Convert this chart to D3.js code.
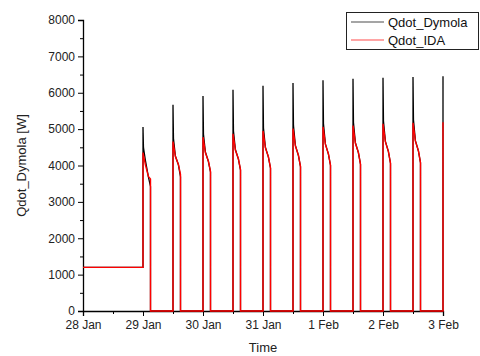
<!DOCTYPE html>
<html><head><meta charset="utf-8">
<script src="https://cdn.jsdelivr.net/npm/d3@7"></script>
<style>body{margin:0;background:#fff}svg{display:block}text{font-family:Arial,"Liberation Sans",sans-serif}</style>
</head><body>
<script>
// time in days after 28 Jan 00:00
const xTickLabels = ["28 Jan","29 Jan","30 Jan","31 Jan","1 Feb","2 Feb","3 Feb"];
const yTicks = [0,1000,2000,3000,4000,5000,6000,7000,8000];
const baseLoad = 1200;
const cycleStarts = [1.0,1.5,2.0,2.5,3.0,3.5,4.0,4.5,5.0,5.5,6.0];
const cycleLength = 0.125;
// Dymola values at offsets 0, 0.008, 0.04, 0.09, 0.125 d
const dymOffsets = [0, 0.008, 0.04, 0.09, 0.125];
const dymPeak = [5060,5670,5910,6080,6190,6270,6345,6385,6410,6435,6455];
const dymA    = [4490,4740,4860,4950,5030,5095,5145,5180,5225,5255];
const dymB    = [4140,4260,4370,4440,4500,4550,4595,4625,4665,4685];
const dymC    = [3690,4020,4110,4175,4230,4275,4315,4350,4380,4400];
const dymEnd  = [3420,3690,3820,3875,3925,3965,4000,4030,4055,4075];
// IDA values at offsets 0, 0.04, 0.09, 0.125 d
const idaOffsets = [0, 0.04, 0.09, 0.125];
const idaPeak = [4355,4660,4780,4870,4950,5015,5065,5100,5145,5175,5190];
const idaB    = [4020,4245,4350,4420,4485,4535,4580,4610,4650,4670];
const idaC    = [3700,4030,4120,4185,4240,4285,4325,4360,4390,4410];
const idaEnd  = [3630,3760,3840,3890,3935,3975,4010,4040,4065,4080];

function buildSeries(offsets, peak, cols){
  const pts = [[0, baseLoad], [cycleStarts[0], baseLoad]];
  cycleStarts.forEach((t0, i) => {
    if (i > 0) pts.push([t0, 0]);
    pts.push([t0, peak[i]]);
    if (i < cols[0].length) {
      cols.forEach((c, j) => pts.push([t0 + offsets[j+1], c[i]]));
      pts.push([t0 + cycleLength, 0]);
    }
  });
  return pts;
}
const dymSeries = buildSeries(dymOffsets, dymPeak, [dymA, dymB, dymC, dymEnd]);
const idaSeries = buildSeries(idaOffsets, idaPeak, [idaB, idaC, idaEnd]);

const W = 480, H = 356;
const m = {left:83, right:37, top:20, bottom:45};
const svg = d3.select("body").append("svg").attr("width", W).attr("height", H);
const x = d3.scaleLinear().domain([0, 6]).range([m.left, W - m.right]);
const y = d3.scaleLinear().domain([0, 8000]).range([H - m.bottom, m.top]);

// minor ticks
const xAxisMinor = d3.axisBottom(x).tickValues(d3.range(0.5, 6, 1)).tickSize(3).tickFormat("");
const yAxisMinor = d3.axisLeft(y).tickValues(d3.range(500, 8000, 1000)).tickSize(3).tickFormat("");
svg.append("g").attr("transform", `translate(0,${y(0)})`).call(xAxisMinor).call(g=>g.select(".domain").remove());
svg.append("g").attr("transform", `translate(${m.left},0)`).call(yAxisMinor).call(g=>g.select(".domain").remove());

const xAxis = d3.axisBottom(x).tickValues(d3.range(0, 7, 1)).tickSize(5).tickPadding(4)
  .tickFormat((d, i) => xTickLabels[i]);
const yAxis = d3.axisLeft(y).tickValues(yTicks).tickSize(5).tickPadding(3).tickFormat(d3.format("d"));
const gx = svg.append("g").attr("transform", `translate(0,${y(0)})`).call(xAxis);
const gy = svg.append("g").attr("transform", `translate(${m.left},0)`).call(yAxis);
[gx, gy].forEach(g => {
  g.select(".domain").attr("stroke-width", 1.3);
  g.selectAll("text").attr("font-size", 12).attr("fill", "#222").style("font-family","Arial,'Liberation Sans',sans-serif");
});
svg.selectAll(".tick line").attr("stroke-width", 1);

const line = d3.line().x(d => x(d[0])).y(d => y(d[1]));
svg.append("path").datum(dymSeries).attr("d", line).attr("fill","none").attr("stroke","#000").attr("stroke-width",1.3);
svg.append("path").datum(idaSeries).attr("d", line).attr("fill","none").attr("stroke","#ff0000").attr("stroke-width",1.4);

svg.append("text").attr("x", (m.left + W - m.right)/2).attr("y", 352).attr("text-anchor","middle")
  .attr("font-size", 13).attr("fill","#222").text("Time");
svg.append("text").attr("transform", `translate(26,${(m.top + H - m.bottom)/2}) rotate(-90)`)
  .attr("text-anchor","middle").attr("font-size", 13).attr("fill","#222").text("Qdot_Dymola [W]");

// legend
const legendItems = [{name:"Qdot_Dymola", color:"#000"}, {name:"Qdot_IDA", color:"#ff0000"}];
const lg = svg.append("g");
lg.append("rect").attr("x", 346.5).attr("y", 12.5).attr("width", 132).attr("height", 37)
  .attr("fill","#fff").attr("stroke","#222").attr("stroke-width",1);
legendItems.forEach((d, i) => {
  const yy = 22 + i * 18;
  lg.append("line").attr("x1", 351).attr("x2", 384).attr("y1", yy).attr("y2", yy)
    .attr("stroke", d.color).attr("stroke-width", 1).attr("opacity", 0.7);
  lg.append("text").attr("x", 388).attr("y", yy + 4.5).attr("font-size", 13).attr("fill","#111").text(d.name);
});
</script>
</body></html>
